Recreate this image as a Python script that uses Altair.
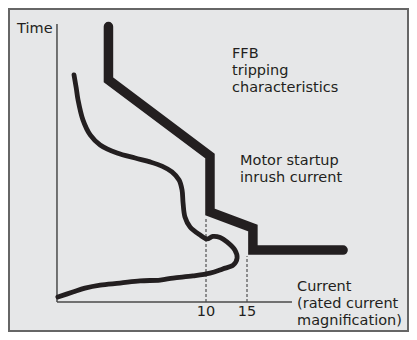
import altair as alt
import pandas as pd

# ---- data (current in multiples of rated current, time in relative units) ----
ffb_current = [3.81, 3.81, 10.4, 10.4, 15.9, 15.9, 38.8]
ffb_time = [99.1, 79.9, 52.5, 32.4, 26.6, 18.7, 18.7]

motor_current = [2.71, 2.77, 2.82, 2.96, 3.18, 3.51, 4.15, 4.96, 5.75, 6.47,
                 7.14, 7.66, 7.89, 7.97, 8.12, 8.54, 9.43, 10.1, 10.7, 11.5,
                 12.3, 13.3, 13.6, 13.1, 11.8, 10.4, 8.79, 7.22, 6.35, 5.21,
                 4.27, 3.51, 3.02, 2.68, 2.31]
motor_time = [81.7, 77.0, 72.7, 65.5, 60.1, 56.5, 53.6, 51.8, 50.4, 48.9,
              46.8, 43.9, 40.3, 35.6, 30.6, 27.0, 24.1, 22.7, 23.6, 23.2,
              21.6, 18.7, 15.8, 13.3, 11.9, 10.4, 9.4, 8.6, 7.9, 7.6,
              6.8, 6.1, 5.0, 3.6, 1.8]

tick_values = [10, 15]
tick_labels = ["10", "15"]
dash_tops = [30.2, 16.5]

axis_origin_current = 2.29
axis_end_current = 23.4
axis_top_time = 100

labels = [["FFB", "tripping", "characteristics"],
          ["Motor startup", "inrush current"],
          ["Current", "(rated current", "magnification)"],
          ["Time"]]
label_current = [12.93, 14.0, 24.6, 1.543]
label_time = [87.8, 49.3, 4.06, 96.8]

# ---- styling ----
INK = "#231f20"
AXIS = "#4a4a4a"
FONT = "DejaVu Sans"
FONT_SIZE = 14.5
LINE_STEP = 6.12  # one text line (17 px) in time units

xs = alt.Scale(type="log", domain=[1.4107, 74.46], nice=False)
ys = alt.Scale(domain=[-10.79, 105.76], nice=False, zero=False)

ffb_df = pd.DataFrame({"i": range(len(ffb_current)), "x": ffb_current, "y": ffb_time})
motor_df = pd.DataFrame({"i": range(len(motor_current)), "x": motor_current, "y": motor_time})
dash_df = pd.DataFrame({"x": tick_values, "y": [0, 0], "y2": dash_tops})
tick_df = pd.DataFrame({"x": tick_values, "label": tick_labels, "y": [-5.0, -5.0]})
xaxis_df = pd.DataFrame({"x": [axis_origin_current], "x2": [axis_end_current], "y": [0]})
yaxis_df = pd.DataFrame({"x": [axis_origin_current], "y": [0], "y2": [axis_top_time]})

rows = []
for lines, lx, ly in zip(labels, label_current, label_time):
    for k, line in enumerate(lines):
        rows.append({"x": lx, "y": ly - k * LINE_STEP, "text": line})
label_df = pd.DataFrame(rows)

X = alt.X("x:Q", scale=xs, axis=None)
Y = alt.Y("y:Q", scale=ys, axis=None)

dashes = alt.Chart(dash_df).mark_rule(color="#333333", strokeWidth=1, strokeDash=[3, 2]).encode(
    x=X, y=Y, y2="y2:Q")

x_axis = alt.Chart(xaxis_df).mark_rule(color=AXIS, strokeWidth=1.5).encode(x=X, x2="x2:Q", y=Y)
y_axis = alt.Chart(yaxis_df).mark_rule(color=AXIS, strokeWidth=1.5).encode(x=X, y=Y, y2="y2:Q")

ffb = alt.Chart(ffb_df).mark_line(color=INK, strokeWidth=9.5, strokeCap="round", strokeJoin="miter").encode(
    x=X, y=Y, order="i:Q")

motor = alt.Chart(motor_df).mark_line(color=INK, strokeWidth=4.8, strokeCap="round",
                                      interpolate="catmull-rom").encode(
    x=X, y=Y, order="i:Q")

ticks = alt.Chart(tick_df).mark_text(font=FONT, fontSize=FONT_SIZE, color=INK, align="center",
                                     baseline="alphabetic").encode(x=X, y=Y, text="label:N")

texts = alt.Chart(label_df).mark_text(font=FONT, fontSize=FONT_SIZE, color=INK, align="left",
                                      baseline="alphabetic").encode(
    x=X, y=Y, text="text:N")

chart = alt.layer(dashes, x_axis, y_axis, ffb, motor, ticks, texts).properties(
    width=401, height=324, padding=0, autosize=alt.AutoSizeParams(type="none"),
    background="white"
).configure_view(stroke="#666666", strokeWidth=4, fill="#e6e7e8")

chart.save("out.html", embed_options={"renderer": "svg", "actions": False})
